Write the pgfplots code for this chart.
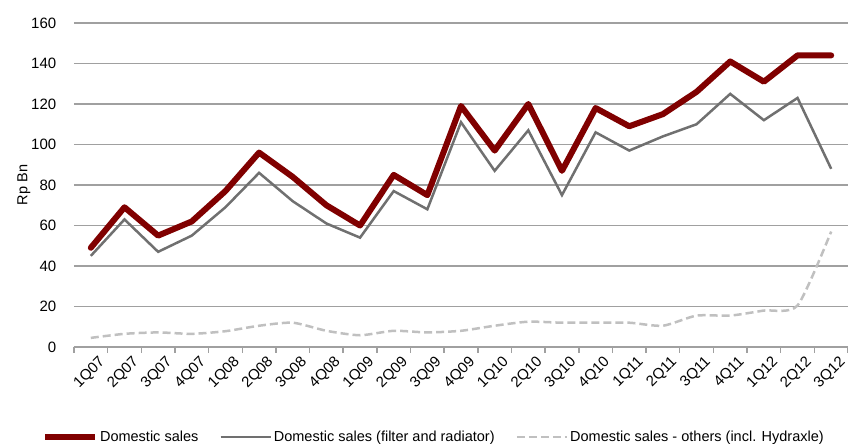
\documentclass[border=0pt]{standalone}
\usepackage{fontspec}
\setmainfont{Liberation Sans}
\usepackage{pgfplots}
\pgfplotsset{compat=1.18}
\definecolor{dred}{RGB}{128,0,0}
\definecolor{mgray}{RGB}{112,112,112}
\definecolor{lgray}{RGB}{192,192,192}
\definecolor{grid}{RGB}{160,160,160}
\newcommand\fs{\fontsize{15}{17}\selectfont}
\newcommand\fl{\fontsize{14.5}{17}\selectfont}
\begin{document}
\begin{tikzpicture}[x=1pt,y=1pt]
\begin{axis}[
  scale only axis, width=774pt, height=324pt,
  xmin=-0.5, xmax=22.5, ymin=0, ymax=160,
  ytick={0,20,...,160},
  xtick={0,...,22},
  xticklabels={1Q07,2Q07,3Q07,4Q07,1Q08,2Q08,3Q08,4Q08,1Q09,2Q09,3Q09,4Q09,1Q10,2Q10,3Q10,4Q10,1Q11,2Q11,3Q11,4Q11,1Q12,2Q12,3Q12},
  minor xtick={-0.5,0.5,...,22.5},
  major x tick style={draw=none},
  minor x tick style={draw=grid, line width=1.5pt},
  tick align=outside, minor tick length=6pt,
  ytick style={draw=none},
  axis x line*=bottom, axis y line*=left,
  x axis line style={draw=grid, line width=1.8pt, -},
  y axis line style={draw=none},
  ymajorgrids, grid style={draw=grid, line width=1.5pt},
  /pgf/number format/assume math mode=true,
  yticklabel style={font=\fs, text=black, xshift=-10pt},
  xticklabel style={font=\fs, text=black, rotate=45, anchor=north east, xshift=6pt, yshift=-4pt},
  ylabel={Rp Bn}, ylabel style={font=\fl, yshift=-6pt},
  legend style={at={(0.465,-0.278)}, anchor=center, draw=none, font=\fl, legend columns=3,
    /tikz/every even column/.append style={column sep=19pt}, inner sep=0pt},
  legend cell align=left,
  legend image code/.code={\draw[#1, line cap=butt] (0pt,0pt) -- (50pt,0pt);},
  clip=false,
]
\addplot[dred, line width=6pt, line join=round, line cap=round] coordinates {
(0,49) (1,69) (2,55) (3,62) (4,77) (5,96) (6,84) (7,70) (8,60) (9,85) (10,75) (11,119) (12,97) (13,120) (14,87) (15,118) (16,109) (17,115) (18,126) (19,141) (20,131) (21,144) (22,144)};
\addlegendentry{Domestic sales}
\addplot[mgray, line width=2.5pt, line join=miter] coordinates {
(0,45) (1,63) (2,47) (3,55) (4,69) (5,86) (6,72) (7,61) (8,54) (9,77) (10,68) (11,111) (12,87) (13,107) (14,75) (15,106) (16,97) (17,104) (18,110) (19,125) (20,112) (21,123) (22,88)};
\addlegendentry{Domestic sales (filter and radiator)}
\addplot[lgray, line width=2.5pt, dash pattern=on 8pt off 4pt, smooth, tension=0.4] coordinates {
(0,4.5) (1,6.5) (2,7.2) (3,6.5) (4,7.8) (5,10.5) (6,12) (7,8) (8,5.8) (9,8) (10,7.2) (11,8) (12,10.5) (13,12.5) (14,12) (15,12) (16,12) (17,10.5) (18,15.5) (19,15.5) (20,18) (21,20.5) (22,57)};
\addlegendentry{Domestic sales - others (incl. Hydraxle)}
\end{axis}
\pgfresetboundingbox
\path (-74pt,-99pt) rectangle (774pt,347pt);
\end{tikzpicture}
\end{document}
